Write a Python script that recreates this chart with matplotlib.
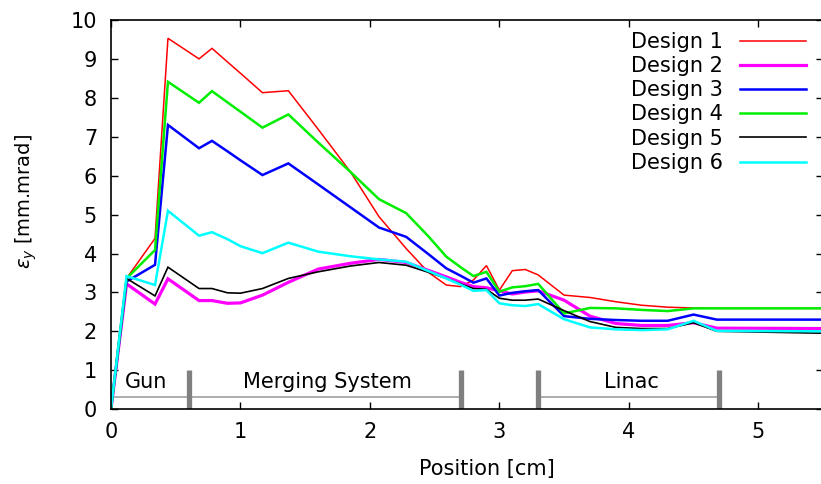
import matplotlib
matplotlib.use("Agg")
import matplotlib.pyplot as plt

plt.rcParams['font.family'] = ['DejaVu Sans']
plt.rcParams['mathtext.fontset'] = 'dejavusans'

position = [0, 0.12, 0.34, 0.44, 0.68, 0.78, 0.9, 1.0, 1.17, 1.37, 1.6, 1.85, 2.07, 2.28,
            2.45, 2.59, 2.7, 2.8, 2.9, 3.0, 3.1, 3.2, 3.3, 3.5, 3.7, 3.9, 4.1, 4.3, 4.5, 4.68, 5.5]

design1 = [0, 3.36, 4.39, 9.54, 9.01, 9.28, 8.93, 8.64, 8.14, 8.19, 7.2, 6.1, 4.95, 4.13,
           3.52, 3.19, 3.15, 3.32, 3.69, 3.06, 3.56, 3.59, 3.45, 2.93, 2.87, 2.76, 2.67, 2.62, 2.6, 2.59, 2.59]
design2 = [0, 3.22, 2.7, 3.35, 2.79, 2.79, 2.72, 2.73, 2.93, 3.26, 3.6, 3.75, 3.85, 3.77,
           3.57, 3.4, 3.26, 3.15, 3.12, 3.04, 2.96, 3.01, 3.04, 2.8, 2.39, 2.2, 2.15, 2.15, 2.22, 2.08, 2.07]
design3 = [0, 3.28, 3.71, 7.31, 6.71, 6.9, 6.63, 6.4, 6.02, 6.32, 5.78, 5.19, 4.67, 4.43,
           3.99, 3.62, 3.43, 3.25, 3.36, 2.92, 2.99, 3.03, 3.06, 2.39, 2.32, 2.29, 2.27, 2.27, 2.43, 2.3, 2.3]
design4 = [0, 3.36, 4.09, 8.42, 7.88, 8.18, 7.89, 7.65, 7.24, 7.58, 6.86, 6.1, 5.4, 5.04,
           4.45, 3.92, 3.65, 3.42, 3.53, 3.02, 3.13, 3.16, 3.22, 2.46, 2.6, 2.59, 2.55, 2.52, 2.59, 2.59, 2.59]
design5 = [0, 3.36, 2.91, 3.65, 3.1, 3.1, 2.99, 2.98, 3.1, 3.36, 3.53, 3.68, 3.77, 3.7,
           3.52, 3.36, 3.22, 3.1, 3.08, 2.85, 2.8, 2.8, 2.83, 2.53, 2.25, 2.1, 2.07, 2.07, 2.22, 2.0, 1.95]
design6 = [0, 3.42, 3.19, 5.1, 4.46, 4.55, 4.37, 4.19, 4.01, 4.28, 4.05, 3.93, 3.85, 3.79,
           3.55, 3.36, 3.2, 3.04, 3.06, 2.72, 2.67, 2.65, 2.7, 2.31, 2.1, 2.05, 2.03, 2.05, 2.27, 2.01, 2.0]

series = [
    ("Design 1", design1, "#ff0000", 1.1),
    ("Design 2", design2, "#ff00ff", 2.3),
    ("Design 3", design3, "#0000ff", 1.8),
    ("Design 4", design4, "#00ee00", 1.8),
    ("Design 5", design5, "#000000", 1.2),
    ("Design 6", design6, "#00ffff", 1.8),
]

regions = [("Gun", 0.0, 0.6), ("Merging System", 0.6, 2.7), ("Linac", 3.3, 4.7)]
region_label_x = [0.27, 1.67, 4.02]

FS = 15
W, H = 821, 484
fig = plt.figure(figsize=(W / 100, H / 100), dpi=100)
x0, x1, ytop, ybot = 111, 823, 20.4, 409
ax = fig.add_axes([x0 / W, (H - ybot) / H, (x1 - x0) / W, (ybot - ytop) / H])

for name, vals, col, lw in series:
    ax.plot(position, vals, color=col, lw=lw, label=name, solid_joinstyle='miter')

# region annotations
for (lab, a, b), lx in zip(regions, region_label_x):
    ax.plot([a, b], [0.32, 0.32], color='#a0a0a0', lw=1.2, zorder=1)
    ax.text(lx, 0.7, lab, ha='center', va='center', fontsize=FS)
for bx in [0.6, 2.7, 3.3, 4.7]:
    ax.plot([bx, bx], [0, 1.0], color='#808080', lw=3.8, solid_capstyle='butt', zorder=1)

ax.set_xlim(0, 5.5)
ax.set_ylim(0, 10)
ax.set_xticks(range(0, 6))
ax.set_yticks(range(0, 11))
ax.tick_params(direction='in', length=5, width=1, labelsize=FS, top=True, right=True)
ax.tick_params(axis='x', pad=9)
ax.tick_params(axis='y', pad=10)
for s in ax.spines.values():
    s.set_linewidth(1.2)

fig.text(487 / W, 1 - 469 / H, "Position [cm]", fontsize=FS, ha='center', va='center')
fig.text(26 / W, 1 - 201 / H, r"$\varepsilon_y$ [mm.mrad]", fontsize=14, ha='center', va='center',
         rotation=90)

ax.legend(loc='upper right', bbox_to_anchor=(806 / W, 1 - 32 / H), bbox_transform=fig.transFigure,
          frameon=False, markerfirst=False, fontsize=FS, handlelength=3.17,
          handletextpad=0.82, labelspacing=0.2, borderaxespad=0, borderpad=0)

fig.savefig("out.png", dpi=100)
